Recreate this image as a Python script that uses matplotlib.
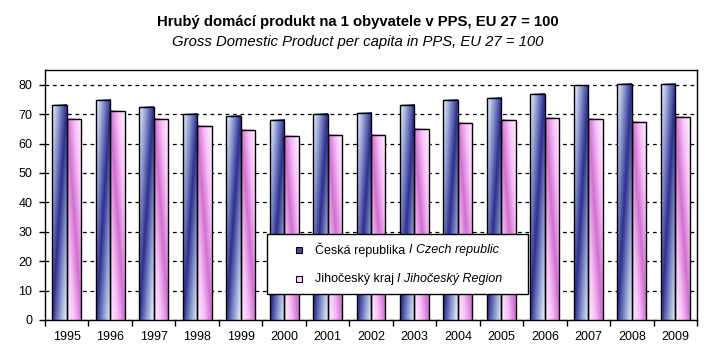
import numpy as np
import matplotlib
matplotlib.use('Agg')
import matplotlib.pyplot as plt
from matplotlib.colors import LinearSegmentedColormap
from matplotlib.patches import Rectangle

plt.rcParams['font.family'] = ['Liberation Sans', 'DejaVu Sans']

years = ['1995', '1996', '1997', '1998', '1999', '2000', '2001', '2002',
         '2003', '2004', '2005', '2006', '2007', '2008', '2009']
czech = [73.2, 74.9, 72.5, 70.2, 69.5, 68.1, 70.2, 70.5, 73.2, 74.9, 75.6, 76.9, 79.8, 80.3, 80.3]
region = [68.5, 71.1, 68.5, 66.1, 64.7, 62.7, 63.0, 63.0, 65.1, 67.1, 68.1, 68.8, 68.5, 67.4, 69.1]

title_cz = 'Hrubý domácí produkt na 1 obyvatele v PPS, EU 27 = 100'
title_en = 'Gross Domestic Product per capita in PPS, EU 27 = 100'
legend_items = [('Česká republika ', 'I Czech republic'),
                ('Jihočeský kraj ', 'I Jihočeský Region')]

blue_cmap = LinearSegmentedColormap.from_list('b', ['#eef5fd', '#8a98cf', '#2e2e8e', '#8a98cf', '#eef5fd'])
pink_cmap = LinearSegmentedColormap.from_list('p', ['#fff0ff', '#f8c0f8', '#d070d0', '#f8c0f8', '#fff0ff'])

fig = plt.figure(figsize=(7.16, 3.53), dpi=100)
ax = fig.add_axes([45/716, 33/353, 652/716, 250/353])

x = np.arange(len(years))
w = 1/3
bars_cz = ax.bar(x - w/2, czech, w, facecolor='none', edgecolor='black', lw=1, zorder=4)
bars_rg = ax.bar(x + w/2, region, w, facecolor='none', edgecolor='black', lw=1, zorder=4)

# diagonal gradient fill inside each bar
gx, gy = np.meshgrid(np.linspace(0, 1, 24), np.linspace(0, 1, 120))
t_blue = (gx + (1 - gy)) / 2
t_pink = (gx + gy) / 2
for bars, t, cmap in [(bars_cz, t_blue, blue_cmap), (bars_rg, t_pink, pink_cmap)]:
    for b in bars:
        x0, h, bw = b.get_x(), b.get_height(), b.get_width()
        ax.imshow(cmap(t), extent=(x0, x0 + bw, 0, h), origin='lower',
                  aspect='auto', interpolation='bilinear', zorder=3)

ax.set_xlim(-0.5, len(years) - 0.5)
ax.set_ylim(0, 85)
ax.set_yticks(range(0, 81, 10))
ax.set_xticks(np.arange(len(years) + 1) - 0.5)
ax.set_xticklabels([])
ax.set_xticks(x, minor=True)
ax.set_xticklabels(years, minor=True)
ax.tick_params(axis='x', which='major', length=4, direction='out', width=1)
ax.tick_params(axis='x', which='minor', length=0, pad=8, labelsize=9)
ax.tick_params(axis='y', length=4, direction='out', width=1, pad=5, labelsize=9)
ax.yaxis.grid(True, color='black', ls=(0, (3, 3)), lw=0.9)
ax.set_axisbelow(True)
for s in ax.spines.values():
    s.set_linewidth(1)

fig.text(0.5, 1 - 22/353, title_cz, ha='center', va='center', fontsize=10.7, fontweight='bold')
fig.text(0.5, 1 - 42/353, title_en, ha='center', va='center', fontsize=10.7, style='italic')

# legend drawn by hand (mixed upright / italic text)
ax.add_patch(Rectangle((0.3405, 0.104), 0.4003, 0.24, transform=ax.transAxes,
                       facecolor='white', edgecolor='black', lw=1, zorder=6))
marker_cols = ['#4848a0', '#fcd4fc']
ys = [0.28, 0.164]
fig.canvas.draw()
rend = fig.canvas.get_renderer()
for (norm, ital), yy, mc in zip(legend_items, ys, marker_cols):
    ax.add_patch(Rectangle((0.3896 - 0.0042, yy - 0.011), 0.0084, 0.022, transform=ax.transAxes,
                           facecolor=mc, edgecolor='black', lw=0.8, zorder=7))
    t1 = ax.text(0.4141, yy, norm, transform=ax.transAxes, va='center', ha='left',
                 fontsize=9, zorder=7)
    bb = t1.get_window_extent(renderer=rend)
    x_end = ax.transAxes.inverted().transform((bb.x1, bb.y0))[0]
    ax.text(x_end, yy, ital, transform=ax.transAxes, va='center', ha='left',
            fontsize=9, style='italic', zorder=7)

fig.savefig('out.png', dpi=100)
